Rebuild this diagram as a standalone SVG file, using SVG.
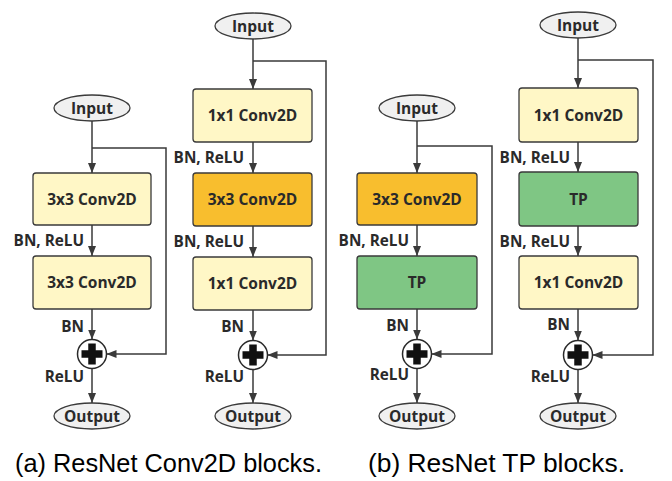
<svg xmlns="http://www.w3.org/2000/svg" width="672" height="481" viewBox="0 0 672 481">
<style>
.box{stroke:#3a3a3a;stroke-width:1.3}
.y{fill:#fff7c6}.o{fill:#f8be2e}.g{fill:#7fc684}
.el{fill:#f0f0f0;stroke:#3a3a3a;stroke-width:1.3}
.t{font-family:"Open Sans","Noto Sans",sans-serif;font-weight:700;font-size:15.5px;fill:#2a2a2a;text-anchor:middle}
.l{font-family:"Open Sans","Noto Sans",sans-serif;font-weight:700;font-size:15.3px;fill:#2a2a2a;text-anchor:end}
.c{font-family:"Liberation Sans",Arial,sans-serif;font-size:25.8px;fill:#000}
.ln{fill:none;stroke:#3a3a3a;stroke-width:1.5}
.cr{fill:#fff;stroke:#2a2a2a;stroke-width:1.5}
.pl{stroke:#111;stroke-width:7.5;stroke-linecap:butt}
</style>
<defs>
<marker id="ah" markerUnits="userSpaceOnUse" markerWidth="10" markerHeight="10" viewBox="0 0 10 10" refX="10" refY="5" orient="auto">
<path d="M0,1 L10,5 L0,9 Z" fill="#3a3a3a"/>
</marker>
<g id="plus"><circle r="14.5" class="cr"/><path class="pl" d="M-10.5,0 H10.5 M0,-10.5 V10.5"/></g>
</defs>

<g id="connectors">
<!-- block 1 -->
<path class="ln" marker-end="url(#ah)" d="M92,121 V173"/>
<path class="ln" marker-end="url(#ah)" d="M92,225 V256"/>
<path class="ln" marker-end="url(#ah)" d="M92,309 V339.5"/>
<path class="ln" marker-end="url(#ah)" d="M92,368.5 V403"/>
<path class="ln" marker-end="url(#ah)" d="M92,148 H166 V354 H106.5"/>
<!-- block 2 -->
<path class="ln" marker-end="url(#ah)" d="M253,39 V89"/>
<path class="ln" marker-end="url(#ah)" d="M253,142 V173"/>
<path class="ln" marker-end="url(#ah)" d="M253,226 V257"/>
<path class="ln" marker-end="url(#ah)" d="M253,310 V340.5"/>
<path class="ln" marker-end="url(#ah)" d="M253,369.5 V403"/>
<path class="ln" marker-end="url(#ah)" d="M253,61 H326 V355 H267.5"/>
<!-- block 3 -->
<path class="ln" marker-end="url(#ah)" d="M417,121 V173"/>
<path class="ln" marker-end="url(#ah)" d="M417,225 V256"/>
<path class="ln" marker-end="url(#ah)" d="M417,309 V339.5"/>
<path class="ln" marker-end="url(#ah)" d="M417,368.5 V403"/>
<path class="ln" marker-end="url(#ah)" d="M417,146 H492 V354 H431.5"/>
<!-- block 4 -->
<path class="ln" marker-end="url(#ah)" d="M578,38 V88"/>
<path class="ln" marker-end="url(#ah)" d="M578,142 V172"/>
<path class="ln" marker-end="url(#ah)" d="M578,226 V256"/>
<path class="ln" marker-end="url(#ah)" d="M578,309 V340.5"/>
<path class="ln" marker-end="url(#ah)" d="M578,369.5 V403"/>
<path class="ln" marker-end="url(#ah)" d="M578,60 H653 V355 H592.5"/>
</g>

<!-- Block 1 -->
<g id="a1-input"><ellipse class="el" cx="92" cy="108" rx="38" ry="13"/><text class="t" x="92" y="113.5">Input</text></g>
<g id="a1-conv1"><rect class="box y" x="33" y="173" width="118" height="52" rx="3"/><text class="t" x="92" y="204.5">3x3 Conv2D</text></g>
<g id="a1-conv2"><rect class="box y" x="33" y="256" width="118" height="53" rx="3"/><text class="t" x="92" y="288">3x3 Conv2D</text></g>
<g id="a1-add"><use href="#plus" x="92" y="354"/></g>
<g id="a1-output"><ellipse class="el" cx="92" cy="416" rx="38" ry="13"/><text class="t" x="92" y="421.5">Output</text></g>
<g id="a1-labels">
<text class="l" x="84" y="246">BN, ReLU</text>
<text class="l" x="84" y="332">BN</text>
<text class="l" x="84" y="382">ReLU</text>
</g>

<!-- Block 2 -->
<g id="a2-input"><ellipse class="el" cx="253" cy="26" rx="38" ry="13"/><text class="t" x="253" y="31.5">Input</text></g>
<g id="a2-conv1"><rect class="box y" x="193" y="89" width="119" height="53" rx="3"/><text class="t" x="252.5" y="121">1x1 Conv2D</text></g>
<g id="a2-conv2"><rect class="box o" x="193" y="173" width="119" height="53" rx="3"/><text class="t" x="252.5" y="205">3x3 Conv2D</text></g>
<g id="a2-conv3"><rect class="box y" x="193" y="257" width="119" height="53" rx="3"/><text class="t" x="252.5" y="289">1x1 Conv2D</text></g>
<g id="a2-add"><use href="#plus" x="253" y="355"/></g>
<g id="a2-output"><ellipse class="el" cx="253" cy="416" rx="38" ry="13"/><text class="t" x="253" y="421.5">Output</text></g>
<g id="a2-labels">
<text class="l" x="244" y="163">BN, ReLU</text>
<text class="l" x="244" y="247">BN, ReLU</text>
<text class="l" x="244" y="332">BN</text>
<text class="l" x="244" y="382">ReLU</text>
</g>

<!-- Block 3 -->
<g id="b1-input"><ellipse class="el" cx="417" cy="108" rx="38" ry="13"/><text class="t" x="417" y="113.5">Input</text></g>
<g id="b1-conv"><rect class="box o" x="357" y="173" width="120" height="52" rx="3"/><text class="t" x="417" y="204.5">3x3 Conv2D</text></g>
<g id="b1-tp"><rect class="box g" x="357" y="256" width="120" height="53" rx="3"/><text class="t" x="417" y="288">TP</text></g>
<g id="b1-add"><use href="#plus" x="417" y="354"/></g>
<g id="b1-output"><ellipse class="el" cx="417" cy="416" rx="38" ry="13"/><text class="t" x="417" y="421.5">Output</text></g>
<g id="b1-labels">
<text class="l" x="409" y="246">BN, ReLU</text>
<text class="l" x="409" y="331">BN</text>
<text class="l" x="409" y="380">ReLU</text>
</g>

<!-- Block 4 -->
<g id="b2-input"><ellipse class="el" cx="578" cy="25" rx="38" ry="13"/><text class="t" x="578" y="30.5">Input</text></g>
<g id="b2-conv1"><rect class="box y" x="519" y="88" width="119" height="54" rx="3"/><text class="t" x="578.5" y="120.5">1x1 Conv2D</text></g>
<g id="b2-tp"><rect class="box g" x="519" y="172" width="119" height="54" rx="3"/><text class="t" x="578.5" y="204.5">TP</text></g>
<g id="b2-conv2"><rect class="box y" x="519" y="256" width="119" height="53" rx="3"/><text class="t" x="578.5" y="288">1x1 Conv2D</text></g>
<g id="b2-add"><use href="#plus" x="578" y="355"/></g>
<g id="b2-output"><ellipse class="el" cx="578" cy="416" rx="38" ry="13"/><text class="t" x="578" y="421.5">Output</text></g>
<g id="b2-labels">
<text class="l" x="570" y="163">BN, ReLU</text>
<text class="l" x="570" y="247">BN, ReLU</text>
<text class="l" x="570" y="330">BN</text>
<text class="l" x="570" y="382">ReLU</text>
</g>

<g id="captions">
<text class="c" x="15" y="472" textLength="307" lengthAdjust="spacingAndGlyphs">(a) ResNet Conv2D blocks.</text>
<text class="c" x="368" y="472" textLength="257" lengthAdjust="spacingAndGlyphs">(b) ResNet TP blocks.</text>
</g>
</svg>
